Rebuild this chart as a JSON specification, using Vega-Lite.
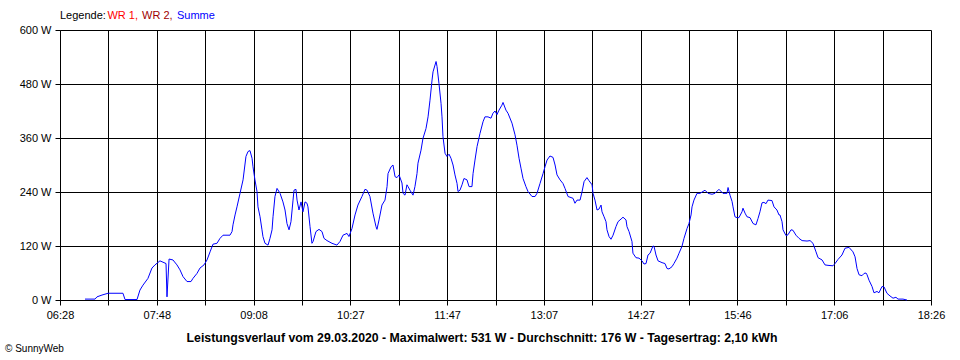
{
  "$schema": "https://vega.github.io/schema/vega-lite/v6.json",
  "width": 871,
  "height": 270,
  "autosize": {"type": "none"},
  "padding": {"left": 60, "top": 30, "right": 29, "bottom": 60},
  "background": "#ffffff",
  "view": {"stroke": null},
  "config": {
    "font": "Liberation Sans",
    "axis": {"labelFont": "Liberation Sans", "labelFontSize": 11, "labelColor": "#000000", "domainColor": "#000000", "tickColor": "#000000", "gridColor": "#000000", "gridOpacity": 1, "gridWidth": 1, "domainWidth": 1, "tickWidth": 1, "tickSize": 5}
  },
  "layer": [
    {
      "mark": {"type": "rule", "color": "#808080", "strokeWidth": 1},
      "encoding": {"y": {"datum": 176, "type": "quantitative"}}
    },
    {
      "data": {
        "values": [
          {"min": 409.1, "W": 2}, {"min": 417.4, "W": 2}, {"min": 419.0, "W": 7}, {"min": 423.1, "W": 11},
          {"min": 428.1, "W": 15}, {"min": 440.4, "W": 15}, {"min": 442.1, "W": 1}, {"min": 452.0, "W": 1},
          {"min": 454.4, "W": 22}, {"min": 456.9, "W": 33}, {"min": 461.0, "W": 48}, {"min": 464.3, "W": 71},
          {"min": 466.8, "W": 78}, {"min": 470.9, "W": 87}, {"min": 473.4, "W": 84}, {"min": 475.9, "W": 81},
          {"min": 476.7, "W": 7}, {"min": 478.4, "W": 91}, {"min": 481.6, "W": 89}, {"min": 484.9, "W": 78},
          {"min": 487.4, "W": 67}, {"min": 489.9, "W": 52}, {"min": 493.2, "W": 41}, {"min": 496.5, "W": 41},
          {"min": 498.1, "W": 48}, {"min": 501.4, "W": 59}, {"min": 503.9, "W": 71}, {"min": 507.2, "W": 78},
          {"min": 509.7, "W": 89}, {"min": 512.2, "W": 107}, {"min": 514.6, "W": 124}, {"min": 517.9, "W": 126},
          {"min": 520.4, "W": 137}, {"min": 522.9, "W": 144}, {"min": 528.6, "W": 144}, {"min": 530.3, "W": 152},
          {"min": 531.1, "W": 167}, {"min": 532.8, "W": 189}, {"min": 534.4, "W": 207}, {"min": 536.9, "W": 237},
          {"min": 539.4, "W": 267}, {"min": 541.8, "W": 319}, {"min": 543.5, "W": 330}, {"min": 545.1, "W": 332},
          {"min": 546.8, "W": 315}, {"min": 547.6, "W": 296}, {"min": 549.2, "W": 267}, {"min": 550.9, "W": 241},
          {"min": 551.7, "W": 207}, {"min": 553.4, "W": 185}, {"min": 555.0, "W": 156}, {"min": 555.8, "W": 141},
          {"min": 557.5, "W": 126}, {"min": 560.0, "W": 122}, {"min": 561.6, "W": 137}, {"min": 563.3, "W": 156},
          {"min": 564.1, "W": 185}, {"min": 565.7, "W": 230}, {"min": 567.4, "W": 248}, {"min": 569.9, "W": 237},
          {"min": 572.3, "W": 218}, {"min": 574.0, "W": 200}, {"min": 575.6, "W": 170}, {"min": 577.3, "W": 156},
          {"min": 578.9, "W": 174}, {"min": 580.6, "W": 222}, {"min": 581.4, "W": 244}, {"min": 583.0, "W": 246},
          {"min": 583.9, "W": 222}, {"min": 585.5, "W": 200}, {"min": 587.2, "W": 218}, {"min": 588.8, "W": 196},
          {"min": 590.5, "W": 218}, {"min": 592.1, "W": 215}, {"min": 592.9, "W": 207}, {"min": 594.6, "W": 163},
          {"min": 596.2, "W": 126}, {"min": 597.1, "W": 130}, {"min": 599.5, "W": 152}, {"min": 602.0, "W": 157},
          {"min": 604.5, "W": 152}, {"min": 606.1, "W": 137}, {"min": 608.6, "W": 132}, {"min": 612.7, "W": 126},
          {"min": 616.8, "W": 122}, {"min": 619.3, "W": 130}, {"min": 621.8, "W": 144}, {"min": 625.1, "W": 148},
          {"min": 626.7, "W": 141}, {"min": 629.2, "W": 159}, {"min": 631.7, "W": 189}, {"min": 634.1, "W": 211},
          {"min": 637.4, "W": 230}, {"min": 639.9, "W": 246}, {"min": 641.6, "W": 244}, {"min": 644.0, "W": 230},
          {"min": 646.5, "W": 193}, {"min": 649.0, "W": 163}, {"min": 649.8, "W": 157}, {"min": 651.5, "W": 178},
          {"min": 653.9, "W": 211}, {"min": 656.4, "W": 222}, {"min": 658.1, "W": 252}, {"min": 658.9, "W": 281},
          {"min": 661.4, "W": 296}, {"min": 663.0, "W": 300}, {"min": 664.7, "W": 274}, {"min": 666.3, "W": 272},
          {"min": 668.0, "W": 278}, {"min": 670.4, "W": 260}, {"min": 671.3, "W": 237}, {"min": 672.9, "W": 233},
          {"min": 674.5, "W": 256}, {"min": 675.4, "W": 252}, {"min": 677.0, "W": 244}, {"min": 679.5, "W": 233},
          {"min": 681.1, "W": 252}, {"min": 682.8, "W": 281}, {"min": 683.6, "W": 304}, {"min": 686.1, "W": 333},
          {"min": 687.7, "W": 359}, {"min": 690.2, "W": 381}, {"min": 691.9, "W": 407}, {"min": 693.5, "W": 444},
          {"min": 695.2, "W": 489}, {"min": 696.0, "W": 507}, {"min": 698.5, "W": 530}, {"min": 699.3, "W": 519},
          {"min": 700.9, "W": 481}, {"min": 702.6, "W": 437}, {"min": 703.4, "W": 407}, {"min": 704.2, "W": 363},
          {"min": 705.9, "W": 326}, {"min": 707.5, "W": 319}, {"min": 709.2, "W": 324}, {"min": 710.8, "W": 315},
          {"min": 712.5, "W": 300}, {"min": 714.1, "W": 278}, {"min": 715.8, "W": 259}, {"min": 716.6, "W": 241},
          {"min": 718.2, "W": 244}, {"min": 719.9, "W": 256}, {"min": 721.5, "W": 270}, {"min": 724.0, "W": 267},
          {"min": 725.7, "W": 252}, {"min": 728.1, "W": 252}, {"min": 729.0, "W": 281}, {"min": 730.6, "W": 311},
          {"min": 732.3, "W": 341}, {"min": 734.7, "W": 370}, {"min": 737.2, "W": 396}, {"min": 738.8, "W": 407},
          {"min": 741.3, "W": 407}, {"min": 743.8, "W": 404}, {"min": 745.4, "W": 415}, {"min": 747.1, "W": 420},
          {"min": 748.7, "W": 412}, {"min": 750.4, "W": 422}, {"min": 752.8, "W": 433}, {"min": 753.7, "W": 439},
          {"min": 756.1, "W": 422}, {"min": 757.8, "W": 415}, {"min": 761.1, "W": 393}, {"min": 763.6, "W": 367},
          {"min": 765.2, "W": 344}, {"min": 766.9, "W": 315}, {"min": 768.5, "W": 293}, {"min": 770.2, "W": 270},
          {"min": 772.6, "W": 252}, {"min": 774.3, "W": 241}, {"min": 777.6, "W": 230}, {"min": 780.1, "W": 230},
          {"min": 781.7, "W": 237}, {"min": 784.2, "W": 259}, {"min": 786.7, "W": 281}, {"min": 788.3, "W": 296},
          {"min": 790.0, "W": 311}, {"min": 792.4, "W": 320}, {"min": 794.9, "W": 317}, {"min": 796.6, "W": 300},
          {"min": 798.2, "W": 278}, {"min": 800.7, "W": 267}, {"min": 803.1, "W": 259}, {"min": 804.8, "W": 248},
          {"min": 807.3, "W": 230}, {"min": 811.4, "W": 226}, {"min": 813.0, "W": 215}, {"min": 814.7, "W": 222},
          {"min": 817.2, "W": 222}, {"min": 818.8, "W": 240}, {"min": 820.5, "W": 263}, {"min": 822.9, "W": 272},
          {"min": 824.6, "W": 265}, {"min": 827.1, "W": 256}, {"min": 827.9, "W": 237}, {"min": 829.5, "W": 222},
          {"min": 831.2, "W": 200}, {"min": 832.8, "W": 202}, {"min": 834.5, "W": 211}, {"min": 835.3, "W": 196},
          {"min": 837.0, "W": 185}, {"min": 838.6, "W": 174}, {"min": 839.4, "W": 156}, {"min": 841.1, "W": 141},
          {"min": 842.7, "W": 135}, {"min": 844.4, "W": 144}, {"min": 846.8, "W": 163}, {"min": 848.5, "W": 174},
          {"min": 851.0, "W": 180}, {"min": 852.6, "W": 184}, {"min": 855.1, "W": 178}, {"min": 855.9, "W": 163},
          {"min": 857.6, "W": 152}, {"min": 860.0, "W": 130}, {"min": 860.8, "W": 104}, {"min": 863.3, "W": 94},
          {"min": 865.8, "W": 93}, {"min": 868.3, "W": 87}, {"min": 869.9, "W": 80}, {"min": 871.6, "W": 81},
          {"min": 873.2, "W": 100}, {"min": 874.9, "W": 104}, {"min": 877.3, "W": 120}, {"min": 878.2, "W": 119},
          {"min": 879.8, "W": 100}, {"min": 881.5, "W": 87}, {"min": 884.8, "W": 83}, {"min": 887.2, "W": 81},
          {"min": 888.9, "W": 70}, {"min": 890.5, "W": 69}, {"min": 893.0, "W": 74}, {"min": 894.6, "W": 81},
          {"min": 897.1, "W": 93}, {"min": 898.8, "W": 104}, {"min": 901.2, "W": 119}, {"min": 902.9, "W": 137},
          {"min": 905.4, "W": 159}, {"min": 907.0, "W": 170}, {"min": 908.7, "W": 189}, {"min": 909.5, "W": 207},
          {"min": 911.1, "W": 222}, {"min": 913.6, "W": 237}, {"min": 916.1, "W": 237}, {"min": 920.2, "W": 244},
          {"min": 922.7, "W": 237}, {"min": 926.0, "W": 235}, {"min": 928.4, "W": 237}, {"min": 931.7, "W": 246},
          {"min": 935.0, "W": 237}, {"min": 938.3, "W": 237}, {"min": 939.2, "W": 250}, {"min": 940.8, "W": 233},
          {"min": 942.5, "W": 219}, {"min": 943.3, "W": 207}, {"min": 944.9, "W": 185}, {"min": 946.6, "W": 183},
          {"min": 948.2, "W": 183}, {"min": 950.7, "W": 196}, {"min": 951.5, "W": 204}, {"min": 953.2, "W": 193},
          {"min": 954.8, "W": 185}, {"min": 957.3, "W": 183}, {"min": 959.8, "W": 170}, {"min": 962.2, "W": 167},
          {"min": 963.9, "W": 181}, {"min": 965.5, "W": 196}, {"min": 967.2, "W": 216}, {"min": 968.8, "W": 217},
          {"min": 970.5, "W": 214}, {"min": 972.1, "W": 222}, {"min": 975.4, "W": 221}, {"min": 977.1, "W": 207},
          {"min": 979.5, "W": 200}, {"min": 981.2, "W": 189}, {"min": 982.0, "W": 189}, {"min": 983.7, "W": 174},
          {"min": 984.5, "W": 156}, {"min": 987.0, "W": 143}, {"min": 988.6, "W": 145}, {"min": 991.1, "W": 156},
          {"min": 992.7, "W": 155}, {"min": 995.2, "W": 144}, {"min": 997.7, "W": 137}, {"min": 1000.2, "W": 132},
          {"min": 1004.3, "W": 131}, {"min": 1006.8, "W": 132}, {"min": 1009.2, "W": 126}, {"min": 1011.7, "W": 107},
          {"min": 1013.4, "W": 94}, {"min": 1016.7, "W": 89}, {"min": 1019.1, "W": 78}, {"min": 1021.6, "W": 77},
          {"min": 1025.7, "W": 76}, {"min": 1027.4, "W": 81}, {"min": 1029.8, "W": 90}, {"min": 1033.1, "W": 100},
          {"min": 1035.6, "W": 115}, {"min": 1038.9, "W": 117}, {"min": 1042.2, "W": 107}, {"min": 1043.9, "W": 96},
          {"min": 1045.5, "W": 70}, {"min": 1047.2, "W": 56}, {"min": 1049.6, "W": 54}, {"min": 1051.3, "W": 59},
          {"min": 1052.9, "W": 60}, {"min": 1053.8, "W": 56}, {"min": 1055.4, "W": 44}, {"min": 1057.9, "W": 30},
          {"min": 1059.5, "W": 16}, {"min": 1062.0, "W": 19}, {"min": 1063.6, "W": 16}, {"min": 1066.1, "W": 30},
          {"min": 1067.8, "W": 29}, {"min": 1070.2, "W": 15}, {"min": 1072.7, "W": 9}, {"min": 1075.2, "W": 4},
          {"min": 1077.6, "W": 6}, {"min": 1079.3, "W": 2}, {"min": 1083.4, "W": 2}, {"min": 1086.7, "W": 0}
        ]
      },
      "mark": {"type": "line", "color": "#0000ff", "strokeWidth": 1, "interpolate": "linear"},
      "encoding": {
        "x": {
          "field": "min",
          "type": "quantitative",
          "scale": {"domain": [388.5, 1106.5], "nice": false, "zero": false},
          "axis": {
            "title": null,
            "values": [388.5, 428.389, 468.278, 508.167, 548.056, 587.944, 627.833, 667.722, 707.611, 747.5, 787.389, 827.278, 867.167, 907.056, 946.944, 986.833, 1026.722, 1066.611, 1106.5],
            "grid": true,
            "labelFlush": false,
            "labelOverlap": false,
            "labelPadding": 4,
            "labelExpr": "round((datum.value-388.5)/39.8889)%2==0 ? ((floor(datum.value/60)<10?'0':'') + floor(datum.value/60) + ':' + (floor(datum.value%60)<10?'0':'') + floor(datum.value%60)) : ''"
          }
        },
        "y": {
          "field": "W",
          "type": "quantitative",
          "scale": {"domain": [0, 600], "nice": false},
          "axis": {
            "title": null,
            "values": [0, 120, 240, 360, 480, 600],
            "grid": true,
            "labelPadding": 4,
            "labelExpr": "datum.value + ' W'"
          }
        }
      }
    },
    {
      "data": {"values": [{}]},
      "mark": {"type": "text", "text": "Legende:", "align": "left", "baseline": "middle", "dy": -14, "fontSize": 11, "color": "#000000"},
      "encoding": {"x": {"datum": 388.5, "type": "quantitative"}, "y": {"datum": 600, "type": "quantitative"}}
    },
    {
      "data": {"values": [{}]},
      "mark": {"type": "text", "text": "WR 1,", "align": "left", "baseline": "middle", "dy": -14, "fontSize": 11, "color": "#ff0000"},
      "encoding": {"x": {"datum": 427.6, "type": "quantitative"}, "y": {"datum": 600, "type": "quantitative"}}
    },
    {
      "data": {"values": [{}]},
      "mark": {"type": "text", "text": "WR 2,", "align": "left", "baseline": "middle", "dy": -14, "fontSize": 11, "color": "#a00000"},
      "encoding": {"x": {"datum": 456.1, "type": "quantitative"}, "y": {"datum": 600, "type": "quantitative"}}
    },
    {
      "data": {"values": [{}]},
      "mark": {"type": "text", "text": "Summe", "align": "left", "baseline": "middle", "dy": -14, "fontSize": 11, "color": "#0000ff"},
      "encoding": {"x": {"datum": 484.9, "type": "quantitative"}, "y": {"datum": 600, "type": "quantitative"}}
    },
    {
      "data": {"values": [{}]},
      "mark": {"type": "text", "text": "Leistungsverlauf vom 29.03.2020 - Maximalwert: 531 W - Durchschnitt: 176 W - Tagesertrag: 2,10 kWh", "align": "center", "baseline": "middle", "fontSize": 12.3, "fontWeight": "bold", "color": "#000000"},
      "encoding": {"x": {"datum": 736.4, "type": "quantitative"}, "y": {"datum": -84.4, "type": "quantitative"}}
    },
    {
      "data": {"values": [{}]},
      "mark": {"type": "text", "text": "© SunnyWeb", "align": "left", "baseline": "middle", "fontSize": 10, "color": "#000000"},
      "encoding": {"x": {"datum": 343.2, "type": "quantitative"}, "y": {"datum": -109, "type": "quantitative"}}
    }
  ]
}
